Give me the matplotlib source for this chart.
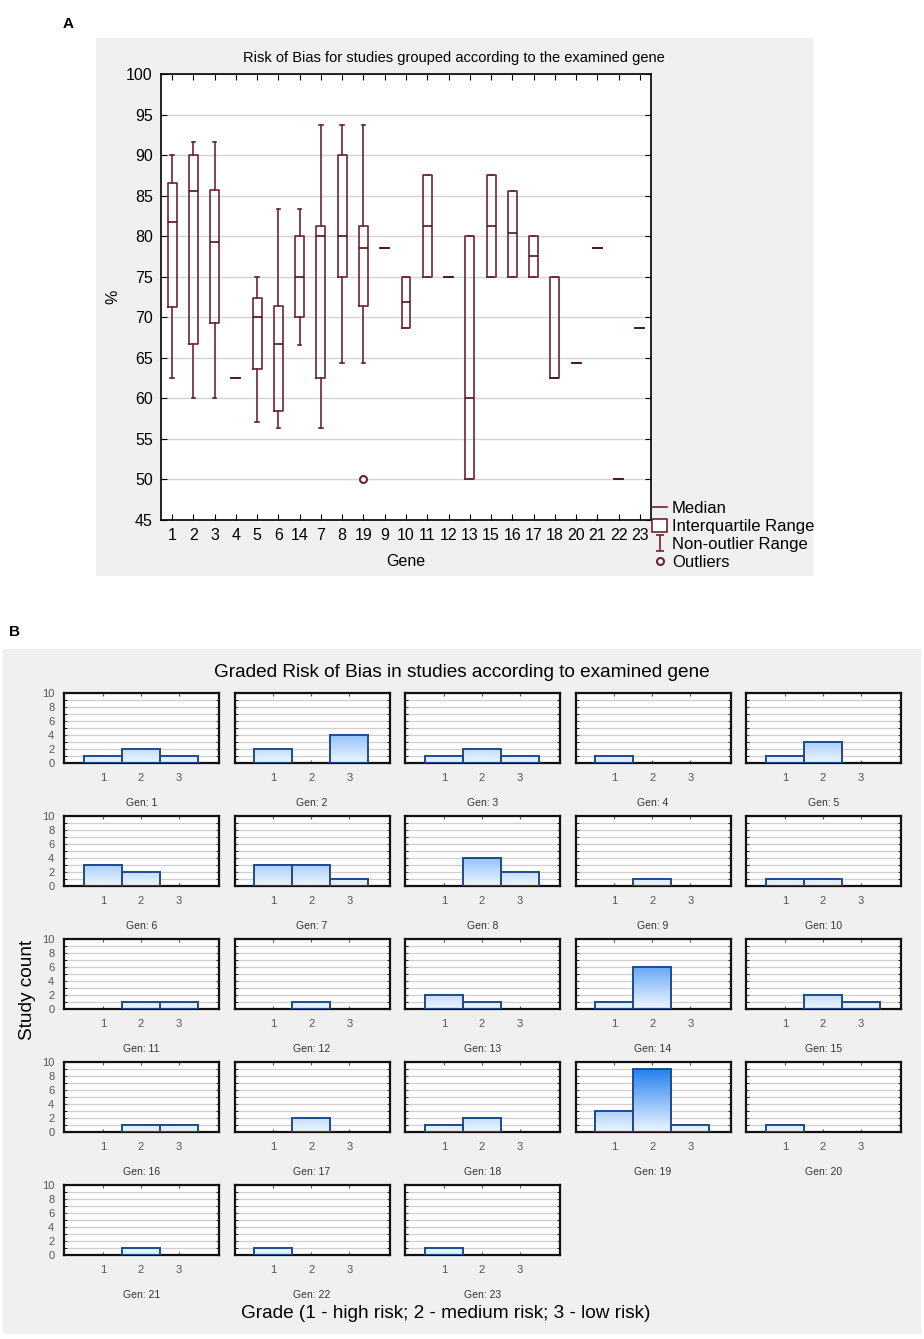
import matplotlib
matplotlib.use("Agg")
import matplotlib.pyplot as plt
import numpy as np
from matplotlib.colors import LinearSegmentedColormap
from matplotlib.lines import Line2D
from matplotlib.patches import Patch, Rectangle
from matplotlib.path import Path

plt.rcParams['font.family'] = ['Liberation Sans', 'DejaVu Sans']

# ---- panel A data: box statistics per gene (in plotted order) ----
genes = ['1', '2', '3', '4', '5', '6', '14', '7', '8', '19', '9', '10',
         '11', '12', '13', '15', '16', '17', '18', '20', '21', '22', '23']
med = [81.7, 85.6, 79.3, 62.5, 70.0, 66.7, 75.0, 80.0, 80.0, 78.5, 78.5, 71.9,
       81.2, 75.0, 60.0, 81.2, 80.4, 77.5, 62.5, 64.3, 78.5, 50.0, 68.7]
q1 = [71.3, 66.7, 69.3, 62.5, 63.6, 58.4, 70.0, 62.5, 75.0, 71.4, 78.5, 68.7,
      75.0, 75.0, 50.0, 75.0, 75.0, 75.0, 62.5, 64.3, 78.5, 50.0, 68.7]
q3 = [86.6, 90.0, 85.7, 62.5, 72.4, 71.4, 80.0, 81.2, 90.0, 81.2, 78.5, 75.0,
      87.5, 75.0, 80.0, 87.5, 85.6, 80.0, 75.0, 64.3, 78.5, 50.0, 68.7]
whislo = [62.5, 60.0, 60.0, 62.5, 57.1, 56.3, 66.6, 56.3, 64.3, 64.3, 78.5, 68.7,
          75.0, 75.0, 50.0, 75.0, 75.0, 75.0, 62.5, 64.3, 78.5, 50.0, 68.7]
whishi = [90.0, 91.6, 91.6, 62.5, 75.0, 83.3, 83.3, 93.7, 93.7, 93.7, 78.5, 75.0,
          87.5, 75.0, 80.0, 87.5, 85.6, 80.0, 75.0, 64.3, 78.5, 50.0, 68.7]
outliers = {'19': [50.0]}

# ---- panel B data: study count per grade (1, 2, 3) for Gen 1..23 ----
grades = [1, 2, 3]
counts = [
    [1, 2, 1], [2, 0, 4], [1, 2, 1], [1, 0, 0], [1, 3, 0],
    [3, 2, 0], [3, 3, 1], [0, 4, 2], [0, 1, 0], [1, 1, 0],
    [0, 1, 1], [0, 1, 0], [2, 1, 0], [1, 6, 0], [0, 2, 1],
    [0, 1, 1], [0, 2, 0], [1, 2, 0], [3, 9, 1], [1, 0, 0],
    [0, 1, 0], [1, 0, 0], [1, 0, 0],
]

W, H = 924, 1339
fig = plt.figure(figsize=(W / 100, H / 100), dpi=100)
fig.patch.set_facecolor('white')


def fx(px):
    return px / W


def fy(px):
    return 1 - px / H


def box_px(left, top, width, height):
    return [fx(left), fy(top + height), width / W, height / H]


panel_gray = '#F0F0F0'
maroon = '#6E2430'

# ================= Panel A =================
fig.patches.append(Rectangle((fx(96), fy(576)), (813 - 96) / W, (576 - 38) / H,
                             transform=fig.transFigure, facecolor=panel_gray,
                             edgecolor='none', zorder=-5))
fig.text(fx(68), fy(24), 'A', fontsize=11, fontweight='bold', ha='center', va='center')

axA = fig.add_axes(box_px(161, 74, 490, 446))
stats = []
for i, g in enumerate(genes):
    stats.append(dict(med=med[i], q1=q1[i], q3=q3[i], whislo=whislo[i],
                      whishi=whishi[i], fliers=outliers.get(g, []), label=g))
pos = np.arange(1, len(genes) + 1)
axA.bxp(stats, positions=pos, widths=0.42, capwidths=0.16, showfliers=True,
        boxprops=dict(color=maroon, linewidth=1.2),
        whiskerprops=dict(color=maroon, linewidth=1.2),
        capprops=dict(color=maroon, linewidth=1.2),
        medianprops=dict(color='#4A1820', linewidth=1.2),
        flierprops=dict(marker='o', markerfacecolor='white', markeredgecolor=maroon,
                        markersize=5, markeredgewidth=1.5))
axA.set_xlim(0.48, len(genes) + 0.52)
axA.set_ylim(45, 100)
axA.set_yticks(np.arange(45, 101, 5))
axA.set_xticks(pos)
axA.set_xticklabels(genes)
axA.yaxis.grid(True, color='#D4D4D4', linewidth=1.0)
axA.set_axisbelow(True)
axA.tick_params(direction='in', top=True, right=True, length=4, labelsize=11.5,
                pad=6, labelright=False, labeltop=False)
for s in axA.spines.values():
    s.set_linewidth(1.2)
axA.set_ylabel('%', fontsize=11.5, labelpad=4)
axA.set_xlabel('Gene', fontsize=11.5, labelpad=8)
fig.text(fx(454), fy(58), 'Risk of Bias for studies grouped according to the examined gene',
         fontsize=10.5, ha='center', va='center')

ibeam = Path([(-0.5, -1), (0.5, -1), (0, -1), (0, 1), (-0.5, 1), (0.5, 1)],
             [Path.MOVETO, Path.LINETO, Path.MOVETO, Path.LINETO, Path.MOVETO, Path.LINETO])
handles = [
    Line2D([], [], color=maroon, linewidth=1.2),
    Patch(facecolor='white', edgecolor=maroon, linewidth=1.2),
    Line2D([], [], linestyle='none', marker=ibeam, markersize=11,
           markeredgecolor=maroon, markeredgewidth=1.2),
    Line2D([], [], linestyle='none', marker='o', markersize=5, markerfacecolor='white',
           markeredgecolor=maroon, markeredgewidth=1.5),
]
fig.legend(handles, ['Median', 'Interquartile Range', 'Non-outlier Range', 'Outliers'],
           loc='upper left', bbox_to_anchor=(fx(652), fy(501)), frameon=False,
           fontsize=12, handlelength=0.9, handleheight=0.8, handletextpad=0.3,
           labelspacing=0.16, borderpad=0, borderaxespad=0)

# ================= Panel B =================
fig.patches.append(Rectangle((fx(3), fy(1334)), (921 - 3) / W, (1334 - 649) / H,
                             transform=fig.transFigure, facecolor=panel_gray,
                             edgecolor='none', zorder=-5))
fig.text(fx(14), fy(632), 'B', fontsize=11, fontweight='bold', ha='center', va='center')
fig.text(fx(462), fy(673), 'Graded Risk of Bias in studies according to examined gene',
         fontsize=13.7, ha='center', va='center')
fig.text(fx(27), fy(990), 'Study count', fontsize=13.7, rotation=90, ha='center', va='center')
fig.text(fx(446), fy(1313), 'Grade (1 - high risk; 2 - medium risk; 3 - low risk)',
         fontsize=13.7, ha='center', va='center')

cmap = LinearSegmentedColormap.from_list('bars', ['#F0F7FF', '#1C7CF0'])
grad = np.linspace(0, 1, 256).reshape(-1, 1)
xl = (-0.02, 4.06)
for k, cnt in enumerate(counts):
    r, c = divmod(k, 5)
    ax = fig.add_axes(box_px(64 + c * 170.5, 693 + r * 123, 155, 70))
    ax.set_facecolor('white')
    bars = ax.bar(grades, cnt, width=1.0, facecolor='none', edgecolor='#1F4A8C',
                  linewidth=1.4, zorder=3)
    for b in bars:
        if b.get_height() <= 0:
            b.set_linewidth(0)
            continue
        im = ax.imshow(grad, extent=[xl[0], xl[1], 0, 10], origin='lower', aspect='auto',
                       cmap=cmap, vmin=0, vmax=0.92, zorder=2)
        im.set_clip_path(b)
    ax.set_xlim(*xl)
    ax.set_ylim(0, 10)
    ax.set_xticks(grades)
    ax.set_yticks(np.arange(0, 11, 2))
    ax.set_yticks(np.arange(0, 11, 1), minor=True)
    ax.yaxis.grid(True, which='both', color='#CFCFCF', linewidth=0.9)
    ax.set_axisbelow(True)
    ax.tick_params(direction='in', top=True, right=True, length=2.5, width=0.8,
                   labelsize=8, colors='#555555', pad=7)
    ax.tick_params(which='minor', direction='in', left=True, right=True, length=2, width=0.6)
    if c != 0:
        ax.tick_params(labelleft=False)
    for s in ax.spines.values():
        s.set_linewidth(1.6)
        s.set_color('#111111')
    ax.set_xlabel('Gen: %d' % (k + 1), fontsize=7.5, color='#333333', labelpad=11)

fig.savefig('out.png', dpi=100)
